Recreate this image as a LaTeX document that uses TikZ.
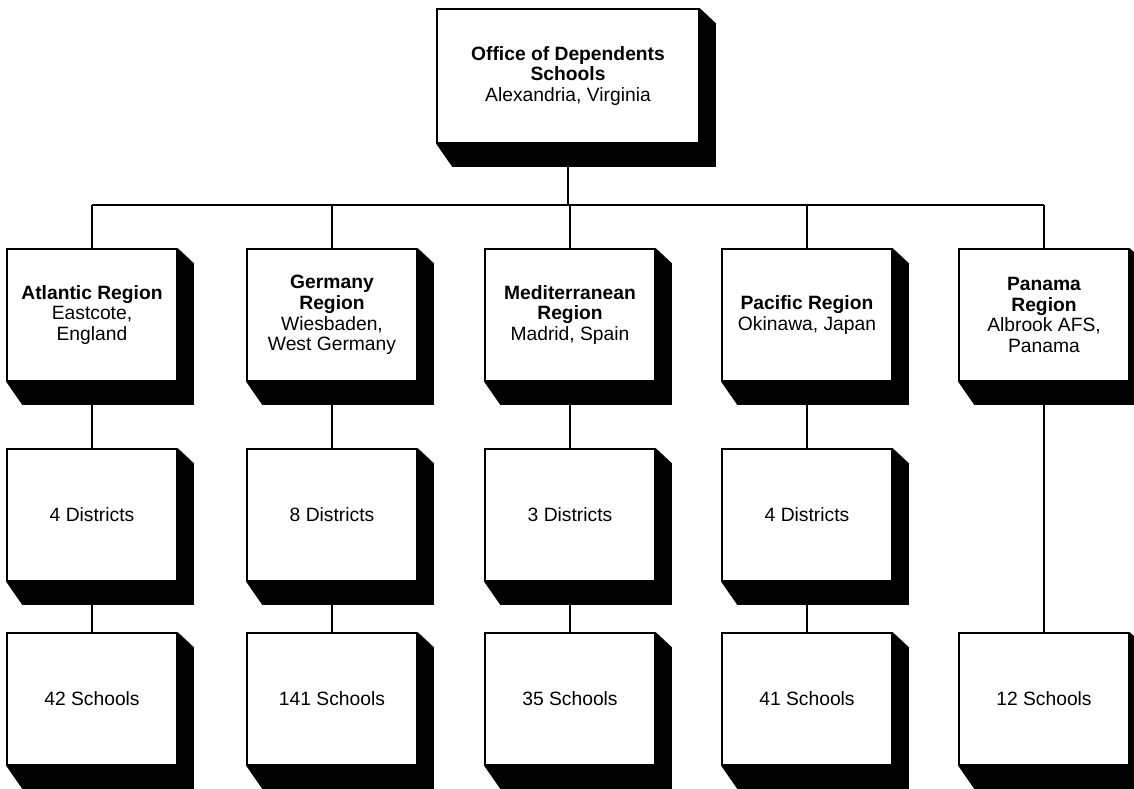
\documentclass[tikz,border=0pt]{standalone}
\usepackage{fontspec}
\setmainfont{Liberation Sans}
\usetikzlibrary{calc}
\tikzset{
every picture/.style={line width=1.1pt, x=0.025cm, y=-0.025cm},
%%%%%%%%%%  Node styles
unit/.style={draw, fill=white, align=center, inner sep=2pt,
             minimum width=4.25cm, minimum height=3.3cm,
             font=\fontsize{13.7}{14.8}\selectfont},
head/.style={unit, minimum width=6.55cm, minimum height=3.35cm},
%%%% connector line
link/.style={line width=1.1pt}
}
%%%%%%% black extruded side of a box
\newcommand{\dropshade}[1]{%
  \fill (#1.north east) -- ($(#1.north east)+(16,15)$)
     -- ($(#1.south east)+(16,23)$) -- ($(#1.south west)+(16,23)$)
     -- (#1.south west) -- (#1.south east) -- cycle;}

\begin{document}
\begin{tikzpicture}
\useasboundingbox (0,0) rectangle (1134,789);
\node[head] (ods) at (568,76) {\textbf{Office of Dependents}\\\textbf{Schools}\\Alexandria, Virginia};
\coordinate (bus) at (568,205);
%%%%%%% regions
\node[unit] (atl) at (92,315) {\textbf{Atlantic Region}\\Eastcote,\\England};
\node[unit] (ger) at (332,315) {\textbf{Germany}\\\textbf{Region}\\Wiesbaden,\\West Germany};
\node[unit] (med) at (570,315) {\textbf{Mediterranean}\\\textbf{Region}\\Madrid, Spain};
\node[unit] (pac) at (807,315) {\textbf{Pacific Region}\\Okinawa, Japan};
\node[unit] (pan) at (1044,315) {\textbf{Panama}\\\textbf{Region}\\Albrook AFS,\\Panama};
%%%%%%% districts
\node[unit] (atld) at (92,515) {4 Districts};
\node[unit] (gerd) at (332,515) {8 Districts};
\node[unit] (medd) at (570,515) {3 Districts};
\node[unit] (pacd) at (807,515) {4 Districts};
%%%%%%% schools
\node[unit] (atls) at (92,699) {42 Schools};
\node[unit] (gers) at (332,699) {141 Schools};
\node[unit] (meds) at (570,699) {35 Schools};
\node[unit] (pacs) at (807,699) {41 Schools};
\node[unit] (pans) at (1044,699) {12 Schools};
\foreach \b in {ods,atl,ger,med,pac,pan,atld,gerd,medd,pacd,atls,gers,meds,pacs,pans}
  {\dropshade{\b}}
%%%%%%% connectors
\draw[link] (ods.south) -- (bus);
\draw[link] (atl.north |- bus) -- (pan.north |- bus);
\foreach \r in {atl,ger,med,pac,pan}
  \draw[link] (\r.north |- bus) -- (\r.north);
\foreach \r in {atl,ger,med,pac}{
  \draw[link] (\r.south) -- (\r d.north);
  \draw[link] (\r d.south) -- (\r s.north);
}
\draw[link] (pan.south) -- (pans.north);
\end{tikzpicture}
\end{document}
